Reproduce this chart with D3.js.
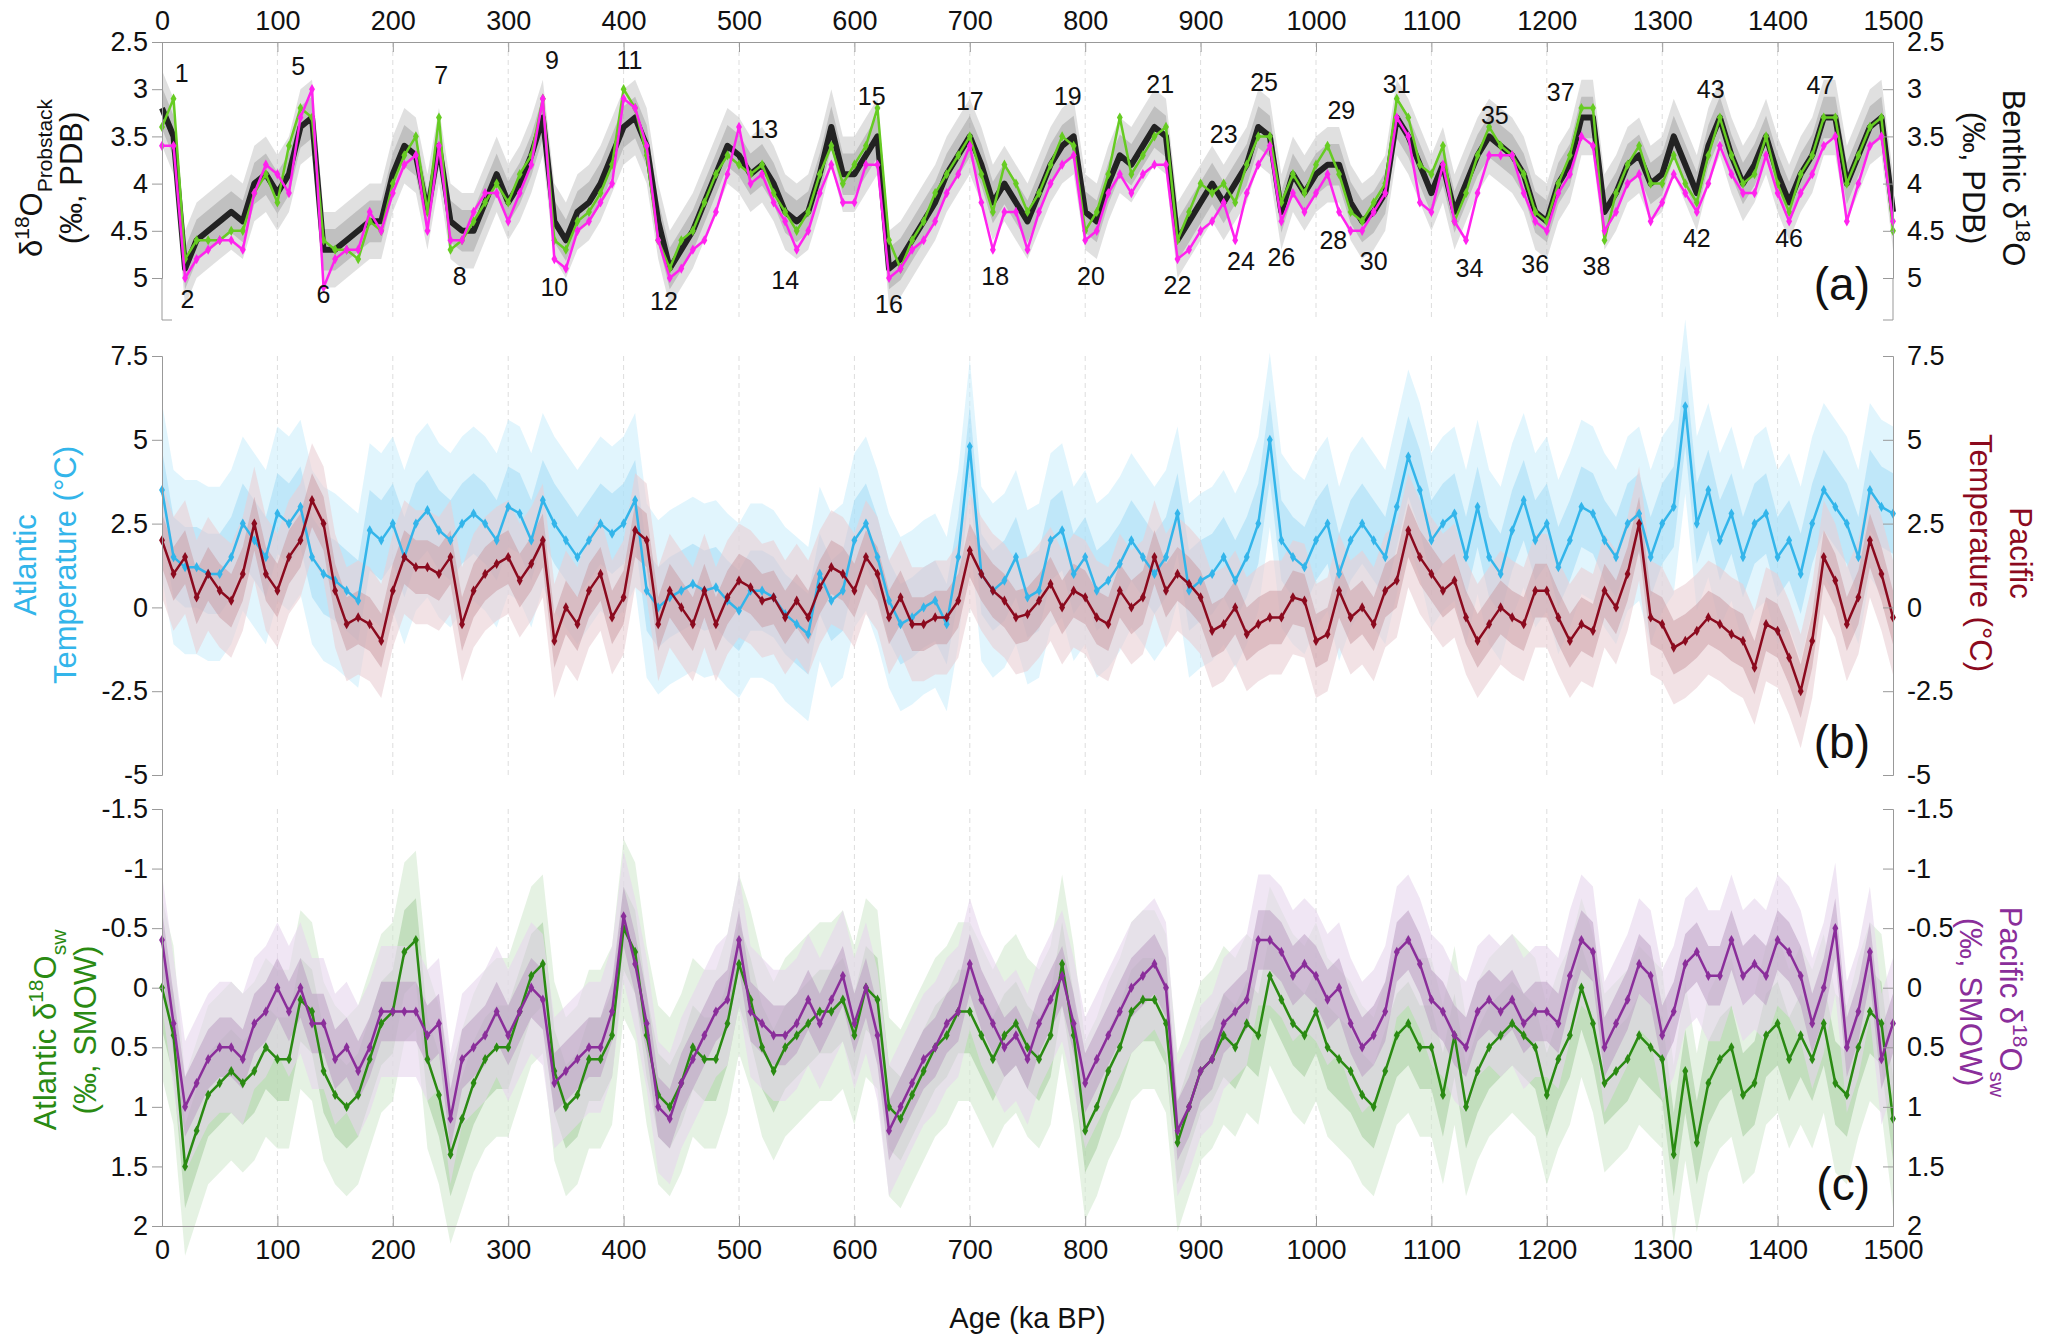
<!DOCTYPE html>
<html><head><meta charset="utf-8">
<script src="https://cdn.jsdelivr.net/npm/d3@7"></script>
<style>body{margin:0;background:#fff}text{font-family:"Liberation Sans",Arial,sans-serif}</style>
</head><body><svg id="c" width="2067" height="1341"></svg>
<script>
const step = 10; // kyr spacing of values
const stackD18O = [
3.2,3.5,4.9,4.6,4.5,4.4,4.3,4.4,4.0,3.9, 4.1,3.9,3.4,3.3,4.7,4.7,4.6,4.5,4.4,4.4,
3.9,3.6,3.7,4.3,3.6,4.4,4.5,4.5,4.2,3.9, 4.2,4.0,3.7,3.3,4.4,4.6,4.3,4.2,4.0,3.7,
3.4,3.3,3.6,4.4,4.9,4.7,4.5,4.2,3.9,3.6, 3.7,3.9,3.8,4.0,4.3,4.4,4.3,3.9,3.4,3.9,
3.9,3.7,3.5,4.9,4.8,4.6,4.4,4.2,3.9,3.7, 3.5,3.8,4.2,4.0,4.2,4.4,4.1,3.8,3.6,3.5,
4.3,4.4,4.0,3.7,3.8,3.6,3.4,3.5,4.6,4.4, 4.2,4.0,4.2,4.0,3.8,3.4,3.5,4.3,3.9,4.1,
3.9,3.8,3.8,4.2,4.4,4.3,4.1,3.3,3.5,3.8, 4.1,3.8,4.3,4.0,3.7,3.5,3.6,3.7,3.9,4.3,
4.4,4.0,3.8,3.3,3.3,4.3,4.1,3.8,3.7,4.0, 3.9,3.5,3.8,4.1,3.6,3.3,3.7,4.0,3.8,3.5,
3.9,4.2,3.9,3.7,3.3,3.3,4.0,3.7,3.4,3.3, 4.3];
const atlD18O = [
3.4,3.1,4.8,4.6,4.6,4.6,4.5,4.5,4.1,3.9, 4.2,3.6,3.2,3.3,4.6,4.7,4.7,4.8,4.4,4.5,
4.0,3.7,3.5,4.3,3.3,4.7,4.6,4.4,4.2,4.0, 4.2,3.9,3.7,3.1,4.6,4.7,4.4,4.3,4.1,3.8,
3.0,3.2,3.7,4.6,4.9,4.6,4.5,4.2,3.9,3.7, 3.8,3.9,3.8,4.1,4.3,4.5,4.3,3.9,3.6,4.0,
3.8,3.6,3.2,4.6,4.9,4.6,4.4,4.1,3.9,3.7, 3.5,3.9,4.3,3.8,4.0,4.3,4.1,3.8,3.5,3.6,
4.5,4.3,3.9,3.3,3.9,3.7,3.5,3.4,4.6,4.3, 4.0,4.1,4.0,4.2,3.8,3.5,3.5,4.2,3.9,4.1,
3.8,3.6,3.9,4.3,4.4,4.2,4.0,3.1,3.3,3.8, 3.9,3.6,4.4,4.1,3.7,3.4,3.6,3.7,3.9,4.3,
4.4,4.0,3.7,3.2,3.2,4.6,4.1,3.8,3.6,4.0, 4.0,3.7,4.0,4.2,3.7,3.3,3.7,4.0,3.9,3.5,
4.0,4.3,3.9,3.7,3.3,3.3,4.0,3.7,3.4,3.3, 4.5];
const pacD18O = [
3.6,3.6,5.0,4.8,4.7,4.6,4.6,4.7,4.1,3.8, 3.9,4.1,3.3,3.0,5.1,4.8,4.7,4.7,4.3,4.5,
4.1,3.8,3.7,4.5,3.6,4.6,4.6,4.3,4.1,4.1, 4.4,4.1,3.8,3.1,4.8,4.9,4.5,4.4,4.2,4.0,
3.1,3.2,3.6,4.6,5.0,4.9,4.7,4.6,4.3,3.9, 3.4,4.0,3.9,4.2,4.4,4.7,4.5,4.1,3.8,4.2,
4.2,3.8,3.8,5.0,4.9,4.7,4.6,4.4,4.1,3.9, 3.6,4.2,4.7,4.3,4.3,4.7,4.3,4.0,3.8,3.7,
4.6,4.5,4.1,3.9,4.1,3.9,3.8,3.8,4.8,4.7, 4.5,4.4,4.2,4.6,4.1,3.8,3.6,4.4,4.1,4.3,
4.1,3.9,4.3,4.5,4.5,4.3,4.1,3.3,3.5,4.2, 4.3,3.8,4.4,4.6,4.1,3.7,3.7,3.7,4.1,4.4,
4.5,4.1,3.9,3.5,3.6,4.5,4.3,4.0,3.9,4.4, 4.2,3.9,4.1,4.3,4.0,3.6,3.9,4.1,4.1,3.7,
4.1,4.4,4.1,3.9,3.6,3.5,4.4,4.0,3.6,3.5, 4.4];
const atlTemp = [
3.5,1.5,1.2,1.2,1.0,1.0,1.5,2.5,2.0,1.5, 2.8,2.5,3.0,1.5,1.0,0.8,0.5,0.2,2.3,2.0,
2.5,1.5,2.5,2.9,2.3,2.0,2.5,2.8,2.5,2.0, 3.0,2.8,2.0,3.2,2.5,2.0,1.5,2.0,2.5,2.2,
2.5,3.2,0.5,0.0,0.3,0.5,0.7,0.5,0.6,0.2, -0.1,0.5,0.5,0.3,-0.2,-0.5,-0.8,1.0,0.2,0.5,
2.0,2.5,1.5,0.2,-0.5,-0.3,0.0,0.2,-0.5,1.5, 4.8,1.0,0.5,0.8,1.5,0.3,0.5,2.0,2.3,1.0,
1.5,0.5,0.8,1.3,2.0,1.5,1.0,1.5,2.8,0.5, 0.8,1.0,1.5,0.8,1.5,2.5,5.0,2.0,1.5,1.2,
2.0,2.5,1.0,2.0,2.5,2.0,1.5,3.0,4.5,3.5, 2.0,2.5,2.8,1.5,3.0,1.5,1.0,2.3,3.2,2.0,
2.5,1.2,2.0,3.0,2.8,2.0,1.5,2.5,2.8,1.5, 2.5,3.0,6.0,2.5,3.5,2.0,2.8,1.5,2.5,2.8,
1.5,2.0,1.0,2.5,3.5,3.0,2.5,1.5,3.5,3.0, 2.8];
const pacTemp = [
2.0,1.0,1.5,0.3,1.0,0.5,0.2,1.0,2.5,1.0, 0.5,1.5,2.0,3.2,2.5,0.5,-0.5,-0.3,-0.5,-1.0,
0.5,1.5,1.2,1.2,1.0,1.5,-0.5,0.5,1.0,1.3, 1.5,0.8,1.3,2.0,-1.0,0.0,-0.5,0.5,1.0,-0.3,
0.3,2.3,2.0,-0.5,0.5,0.0,-0.5,0.5,-0.5,0.3, 0.8,0.6,0.2,0.3,-0.3,0.2,-0.3,0.6,1.2,1.0,
0.5,1.5,1.0,-0.3,0.3,-0.5,-0.5,-0.3,-0.3,0.2, 1.7,1.0,0.5,0.2,-0.3,-0.2,0.2,0.7,0.0,0.5,
0.3,-0.3,-0.5,0.5,0.0,0.3,1.5,0.5,1.0,0.7, 0.3,-0.7,-0.5,0.0,-0.8,-0.5,-0.3,-0.3,0.3,0.2,
-1.0,-0.8,0.5,-0.3,0.0,-0.5,0.5,0.8,2.3,1.5, 1.0,0.5,0.8,-0.3,-1.0,-0.5,0.0,-0.3,-0.5,0.5,
0.5,-0.3,-1.0,-0.5,-0.7,0.5,0.0,1.0,2.5,-0.3, -0.5,-1.2,-1.0,-0.7,-0.3,-0.5,-0.8,-1.0,-1.8,-0.5,
-0.7,-1.5,-2.5,-1.0,1.5,0.8,-0.5,0.3,2.0,1.0, -0.3];
const atlSw = [
0.0,0.4,1.5,1.2,0.9,0.8,0.7,0.8,0.7,0.5, 0.6,0.6,0.1,0.2,0.7,0.9,1.0,0.9,0.6,0.3,
0.2,-0.3,-0.4,0.6,0.9,1.4,1.1,0.8,0.6,0.5, 0.5,0.2,-0.1,-0.2,0.7,1.0,0.9,0.6,0.6,0.4,
-0.5,-0.3,0.4,0.9,1.0,0.8,0.5,0.6,0.6,0.3, -0.2,0.1,0.5,0.7,0.5,0.4,0.3,0.2,0.2,0.1,
0.4,0.0,0.1,1.0,1.1,0.9,0.7,0.5,0.4,0.2, 0.2,0.4,0.6,0.4,0.3,0.5,0.6,0.4,-0.2,0.4,
1.2,1.0,0.7,0.5,0.2,0.1,0.1,0.3,1.3,1.0, 0.7,0.6,0.4,0.5,0.3,0.4,-0.1,0.1,0.3,0.4,
0.2,0.5,0.6,0.7,0.9,1.0,0.7,0.4,0.3,0.5, 0.5,0.9,0.4,1.0,0.7,0.5,0.4,0.3,0.4,0.5,
0.9,0.6,0.4,0.0,0.3,0.8,0.7,0.6,0.4,0.5, 0.6,1.4,0.7,1.3,0.8,0.6,0.5,0.9,0.8,0.4,
0.3,0.6,0.4,0.6,0.3,0.8,0.9,0.5,0.2,0.3, 1.1];
const pacSw = [
-0.4,0.3,1.0,0.8,0.6,0.5,0.5,0.6,0.3,0.2, 0.0,0.2,0.0,0.3,0.3,0.6,0.5,0.7,0.5,0.2,
0.2,0.2,0.2,0.4,0.3,1.1,0.6,0.5,0.4,0.2, 0.4,0.2,0.0,0.1,0.8,0.7,0.6,0.5,0.5,0.2,
-0.6,-0.2,0.3,1.0,1.1,0.8,0.6,0.4,0.2,0.1, -0.4,0.2,0.3,0.4,0.4,0.3,0.1,0.3,0.1,-0.1,
0.3,0.0,0.4,1.2,1.0,0.8,0.6,0.5,0.3,0.2, -0.2,0.1,0.3,0.5,0.4,0.6,0.3,0.1,-0.1,0.3,
0.8,0.6,0.4,0.2,0.0,-0.1,-0.2,0.0,1.2,1.0, 0.7,0.6,0.3,0.2,0.1,-0.4,-0.4,-0.3,-0.1,-0.2,
-0.1,0.1,0.0,0.3,0.5,0.4,0.2,-0.3,-0.4,-0.2, 0.1,0.2,0.4,0.5,0.2,0.1,0.2,0.1,0.3,0.2,
0.2,0.3,-0.1,-0.4,-0.3,0.5,0.3,0.1,-0.2,-0.1, 0.4,0.2,-0.2,-0.3,-0.1,-0.1,-0.4,-0.1,-0.2,-0.1,
-0.4,-0.3,-0.1,0.3,0.0,-0.5,0.5,0.2,-0.3,0.6, 0.3];
const mis = [[1,17,2.85],[2,22,5.25],[5,118,2.78],[6,140,5.2],[7,242,2.88],[8,258,5.0],[9,338,2.72],[10,340,5.12],[11,405,2.72],[12,435,5.27],[13,522,3.45],[14,540,5.05],[15,615,3.1],[16,630,5.3],[17,700,3.15],[18,722,5.0],[19,785,3.1],[20,805,5.0],[21,865,2.97],[22,880,5.1],[23,920,3.5],[24,935,4.85],[25,955,2.95],[26,970,4.8],[28,1015,4.62],[29,1022,3.25],[30,1050,4.85],[31,1070,2.97],[34,1133,4.92],[35,1155,3.3],[36,1190,4.88],[37,1212,3.05],[38,1243,4.9],[42,1330,4.6],[43,1342,3.02],[46,1410,4.6],[47,1437,2.98]];
const xTicks = d3.range(0,1501,100);
const ticksA = [2.5,3,3.5,4,4.5,5], ticksB=[-5,-2.5,0,2.5,5,7.5], ticksC=[-1.5,-1,-0.5,0,0.5,1,1.5,2];

const svg = d3.select("#c");
const X0=162, X1=1893;
const x = d3.scaleLinear().domain([0,1500]).range([X0,X1]);
const ya = d3.scaleLinear().domain([2.5,5]).range([42,278]);
const yb = d3.scaleLinear().domain([-5,7.5]).range([775,356]);
const yc = d3.scaleLinear().domain([-1.5,2]).range([809,1226]);
const age = (d,i)=>i*step;

function grid(top,bot){
  svg.append("g").selectAll("line").data(xTicks.slice(1,-1)).join("line")
   .attr("x1",d=>x(d)).attr("x2",d=>x(d)).attr("y1",top).attr("y2",bot)
   .attr("stroke","#ddd").attr("stroke-width",1).attr("stroke-dasharray","5,4");
}
grid(42,320); grid(356,775); grid(809,1226);

function band(arr,y,w,col,op){
  svg.append("path").datum(arr).attr("fill",col).attr("opacity",op)
   .attr("d",d3.area().x((d,i)=>x(age(d,i))).y0(d=>y(d-w)).y1(d=>y(d+w)));
}
function line(arr,y,col,w,marker){
  svg.append("path").datum(arr).attr("fill","none").attr("stroke",col).attr("stroke-width",w)
   .attr("stroke-linejoin","round").attr("d",d3.line().x((d,i)=>x(age(d,i))).y(d=>y(d)));
  if(marker){
    svg.append("g").selectAll("path").data(arr).join("path")
     .attr("transform",(d,i)=>`translate(${x(age(d,i))},${y(d)})`)
     .attr("d",d3.symbol(d3.symbolDiamond,30)).attr("fill",col);
  }
}
band(stackD18O,ya,0.4,"#bbb",0.45);
band(stackD18O,ya,0.22,"#999",0.45);
line(stackD18O,ya,"#222",6,false);
line(atlD18O,ya,"#66cc22",2.5,true);
line(pacD18O,ya,"#ff22ee",2.5,true);
band(atlTemp,yb,2.6,"#cdeefc",0.6);
band(atlTemp,yb,1.2,"#9ed9f6",0.5);
band(pacTemp,yb,1.7,"#e9cfd3",0.6);
band(pacTemp,yb,0.8,"#c99aa2",0.5);
line(atlTemp,yb,"#33b5ea",2.5,true);
line(pacTemp,yb,"#8b0a1e",2.5,true);
band(atlSw,yc,0.75,"#d4ead0",0.6);
band(atlSw,yc,0.35,"#9fca98",0.5);
band(pacSw,yc,0.55,"#e6d6ec",0.6);
band(pacSw,yc,0.25,"#b89ac0",0.5);
line(atlSw,yc,"#2a8a12",2.5,true);
line(pacSw,yc,"#8a2e9a",2.5,true);

const ax = (g,s)=>{g.call(s);g.select(".domain").attr("stroke","#999");g.selectAll(".tick line").attr("stroke","#999");g.selectAll("text").attr("font-size",27).attr("fill","#111");};
const fmt = d=>String(d);
ax(svg.append("g").attr("transform",`translate(${X0},0)`),d3.axisLeft(ya).tickValues(ticksA).tickFormat(fmt).tickSize(10).tickPadding(4));
svg.append("line").attr("x1",X0).attr("x2",X0).attr("y1",278).attr("y2",320).attr("stroke","#999");
svg.append("line").attr("x1",X0).attr("x2",X0+10).attr("y1",320).attr("y2",320).attr("stroke","#999");
ax(svg.append("g").attr("transform",`translate(${X1},0)`),d3.axisRight(ya).tickValues(ticksA).tickFormat(fmt).tickSize(-10).tickPadding(14));
svg.append("line").attr("x1",X1).attr("x2",X1).attr("y1",278).attr("y2",320).attr("stroke","#999");
svg.append("line").attr("x1",X1-10).attr("x2",X1).attr("y1",320).attr("y2",320).attr("stroke","#999");
ax(svg.append("g").attr("transform",`translate(0,42)`),d3.axisTop(x).tickValues(xTicks).tickFormat(fmt).tickSize(-10).tickPadding(12));
ax(svg.append("g").attr("transform",`translate(${X0},0)`),d3.axisLeft(yb).tickValues(ticksB).tickFormat(fmt).tickSize(10).tickPadding(4));
ax(svg.append("g").attr("transform",`translate(${X1},0)`),d3.axisRight(yb).tickValues(ticksB).tickFormat(fmt).tickSize(-10).tickPadding(14));
ax(svg.append("g").attr("transform",`translate(${X0},0)`),d3.axisLeft(yc).tickValues(ticksC).tickFormat(fmt).tickSize(10).tickPadding(4));
ax(svg.append("g").attr("transform",`translate(${X1},0)`),d3.axisRight(yc).tickValues(ticksC).tickFormat(fmt).tickSize(-10).tickPadding(14));
ax(svg.append("g").attr("transform",`translate(0,1226)`),d3.axisBottom(x).tickValues(xTicks).tickFormat(fmt).tickSize(-10).tickPadding(14));

svg.append("g").selectAll("text").data(mis).join("text")
 .attr("x",d=>x(d[1])).attr("y",d=>ya(d[2])).attr("text-anchor","middle").attr("dominant-baseline","middle")
 .attr("font-size",25).attr("fill","#111").text(d=>d[0]);

[["(a)",300],["(b)",758],["(c)",1200]].forEach(([t,y])=>svg.append("text").attr("x",1870).attr("y",y).attr("text-anchor","end").attr("font-size",46).attr("fill","#111").text(t));

function title(cx,cy,rot,col,lines){
  const g=svg.append("g").attr("transform",`translate(${cx},${cy}) rotate(${rot})`);
  lines.forEach((ln,li)=>{
    const t=g.append("text").attr("y",li*40).attr("text-anchor","middle").attr("fill",col).attr("font-size",31);
    ln.forEach(p=>{const s=t.append("tspan").text(p.t); if(p.fs) s.attr("font-size",p.fs); if(p.dy) s.attr("dy",p.dy);});
  });
}
title(42,178,-90,"#111",[[{t:"δ"},{t:"18",fs:21,dy:-13},{t:"O",dy:13},{t:"Probstack",fs:21,dy:10}],[{t:"(‰, PDB)"}]]);
title(2003,178,90,"#111",[[{t:"Benthic  δ"},{t:"18",fs:21,dy:-13},{t:"O",dy:13}],[{t:"(‰, PDB)"}]]);
title(36,565,-90,"#33b5ea",[[{t:"Atlantic"}],[{t:"Temperature (°C)"}]]);
title(2010,553,90,"#8b0a1e",[[{t:"Pacific"}],[{t:"Temperature (°C)"}]]);
title(56,1030,-90,"#2a8a12",[[{t:"Atlantic δ"},{t:"18",fs:21,dy:-13},{t:"O",dy:13},{t:"sw",fs:21,dy:10}],[{t:"(‰, SMOW)"}]]);
title(2000,1002,90,"#8a2e9a",[[{t:"Pacific δ"},{t:"18",fs:21,dy:-13},{t:"O",dy:13},{t:"sw",fs:21,dy:10}],[{t:"(‰, SMOW)"}]]);
svg.append("text").attr("x",(X0+X1)/2).attr("y",1328).attr("text-anchor","middle").attr("font-size",29).attr("fill","#111").text("Age (ka BP)");
</script></body></html>
